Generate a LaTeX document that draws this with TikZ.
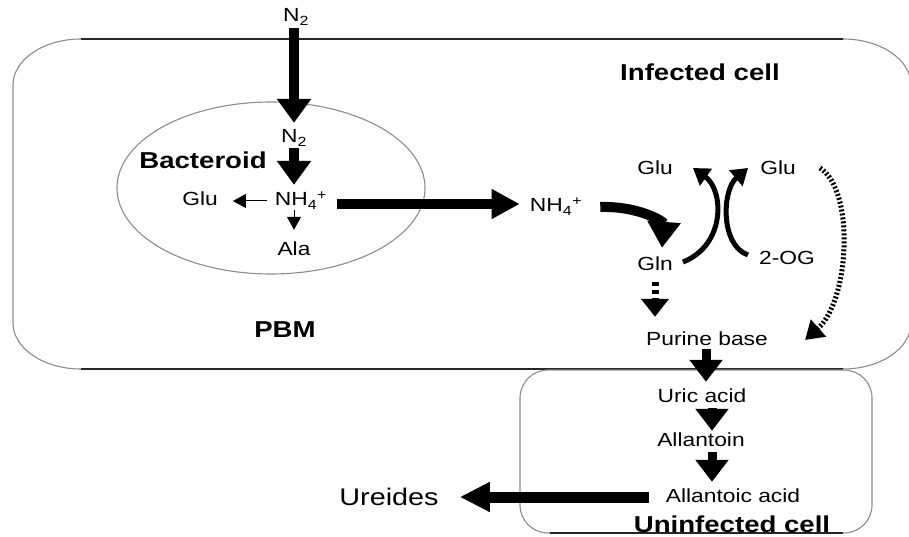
\documentclass[tikz,border=0pt]{standalone}
\usepackage{fontspec}
\setmainfont{Liberation Sans}[FakeStretch=1.2]
\usetikzlibrary{arrows.meta}
\definecolor{edgegray}{RGB}{140,140,140}
\begin{document}
\begin{tikzpicture}[x=1pt,y=-1pt,
  lab/.style={inner sep=0pt, text height=14pt, text depth=4pt, font=\fontsize{19}{22}\selectfont},
  blab/.style={inner sep=0pt, font=\fontsize{23}{26}\selectfont\bfseries},
  biglab/.style={inner sep=0pt, font=\fontsize{24}{28}\selectfont},
  cellline/.style={draw=edgegray, line width=1.1pt},
  membrane/.style={draw=black!85, line width=1.4pt},
  bigarrow/.style={line width=10pt, -{Triangle[width=33pt,length=24pt]}},
  midarrow/.style={line width=9pt, -{Triangle[width=32pt,length=22pt]}},
  thinarrow/.style={line width=1pt, -{Triangle[width=14pt,length=13pt]}},
  arcarrow/.style={line width=5pt, -{Triangle[width=20pt,length=16pt]}},
  dotarrow/.style={line width=5pt, dash pattern=on 2pt off 2pt, -{Triangle[width=22pt,length=18pt]}},
  dashvarrow/.style={line width=7pt, dash pattern=on 4pt off 4pt, -{Triangle[width=27pt,length=18pt]}}
]
\useasboundingbox (0,0) rectangle (909,537);
\fill[white] (0,0) rectangle (909,537);

% infected cell
\path[cellline] (13,85) .. controls (13,59.6) and (43.5,39) .. (81,39) -- (843,39)
  .. controls (880.5,39) and (911,59.6) .. (911,85) -- (911,323)
  .. controls (911,348.4) and (880.5,369) .. (843,369) -- (81,369)
  .. controls (43.5,369) and (13,348.4) .. (13,323) -- cycle;
\draw[membrane] (81,39) -- (843,39);
\draw[membrane] (81,369) -- (843,369);

% uninfected cell
\path[cellline] (520,398) .. controls (520,382.5) and (532.5,370) .. (548,370) -- (844,370)
  .. controls (859.5,370) and (872,382.5) .. (872,398) -- (872,505)
  .. controls (872,520.5) and (859.5,533) .. (844,533) -- (548,533)
  .. controls (532.5,533) and (520,520.5) .. (520,505) -- cycle;
\draw[membrane] (550,533) -- (843,533);

% bacteroid
\draw[cellline] (271,188) ellipse [x radius=154, y radius=86];

% labels
\node[lab] (n2top) at (296,17) {N\textsubscript{2}};
\node[lab] (n2in) at (294,138) {N\textsubscript{2}};
\node[blab] (bact) at (203,160) {Bacteroid};
\node[lab] (nh4a) at (301,201) {NH\textsubscript{4}\textsuperscript{+}};
\node[lab] (glua) at (200,201) {Glu};
\node[lab] (ala) at (294,250) {Ala};
\node[lab] (nh4b) at (556,207) {NH\textsubscript{4}\textsuperscript{+}};
\node[lab] (glub) at (655,170) {Glu};
\node[lab] (glur) at (778,170) {Glu};
\node[lab] (gln) at (655,265) {Gln};
\node[lab] (twoog) at (787,259) {2-OG};
\node[lab] (pur) at (707,340) {Purine base};
\node[lab] (uric) at (702,397) {Uric acid};
\node[lab] (allan) at (701,441) {Allantoin};
\node[lab] (allac) at (733,497) {Allantoic acid};
\node[biglab] (ureides) at (389,497) {Ureides};
\node[blab] (infc) at (700,72) {Infected cell};
\node[blab] (pbm) at (285,330) {PBM};
\node[blab] (uninf) at (732,524) {Uninfected cell};

% arrows
\draw[bigarrow, shorten <=2pt, shorten >=6pt] (n2in.north |- n2top.south) -- (n2in.north);
\draw[bigarrow, shorten <=1pt, shorten >=7pt] (n2in.south) -- (n2in.south |- nh4a.north);
\draw[thinarrow, shorten <=8pt, shorten >=15pt] (nh4a.west) -- (glua.east);
\draw[thinarrow, shorten >=11pt] (ala.north |- nh4a.south) -- (ala.north);
\draw[line width=10pt, -{Triangle[width=28pt,length=28pt]}, shorten <=10pt, shorten >=10pt]
  ([yshift=-3pt]nh4a.east) -- ([yshift=-3pt]nh4a.east -| nh4b.west);
\draw[line width=10pt, -{Triangle[width=32pt,length=26pt]}]
  ([xshift=18pt]nh4b.east) .. controls (640,206) and (664,222) .. ([xshift=7pt,yshift=8pt]gln.north);
\draw[arcarrow] ([xshift=10pt,yshift=3pt]gln.east) .. controls (726,245) and (724,190) .. ([xshift=20pt,yshift=2pt]glub.east);
\draw[arcarrow] ([xshift=-11pt,yshift=4pt]twoog.west) .. controls (720,245) and (722,190) .. ([xshift=-12pt,yshift=2pt]glur.west);
\draw[dotarrow] ([xshift=24pt,yshift=2pt]glur.east) .. controls (855,190) and (850,300) .. ([xshift=37pt]pur.east);
\draw[dashvarrow, shorten <=8pt, shorten >=14pt] (gln.south) -- (gln.south |- pur.north);
\draw[midarrow, shorten >=6pt] ([xshift=-1pt]pur.south) -- ([xshift=-1pt]pur.south |- uric.north);
\draw[midarrow, shorten <=2pt, shorten >=1pt] ([xshift=10pt]uric.south) -- ([xshift=10pt]uric.south |- allan.north);
\draw[midarrow, shorten <=2pt, shorten >=6pt] ([xshift=11pt]allan.south) -- ([xshift=11pt]allan.south |- allac.north);
\draw[line width=11pt, -{Triangle[width=28pt,length=30pt]}, shorten <=17pt, shorten >=21pt] (allac.west) -- (ureides.east);
\end{tikzpicture}
\end{document}
